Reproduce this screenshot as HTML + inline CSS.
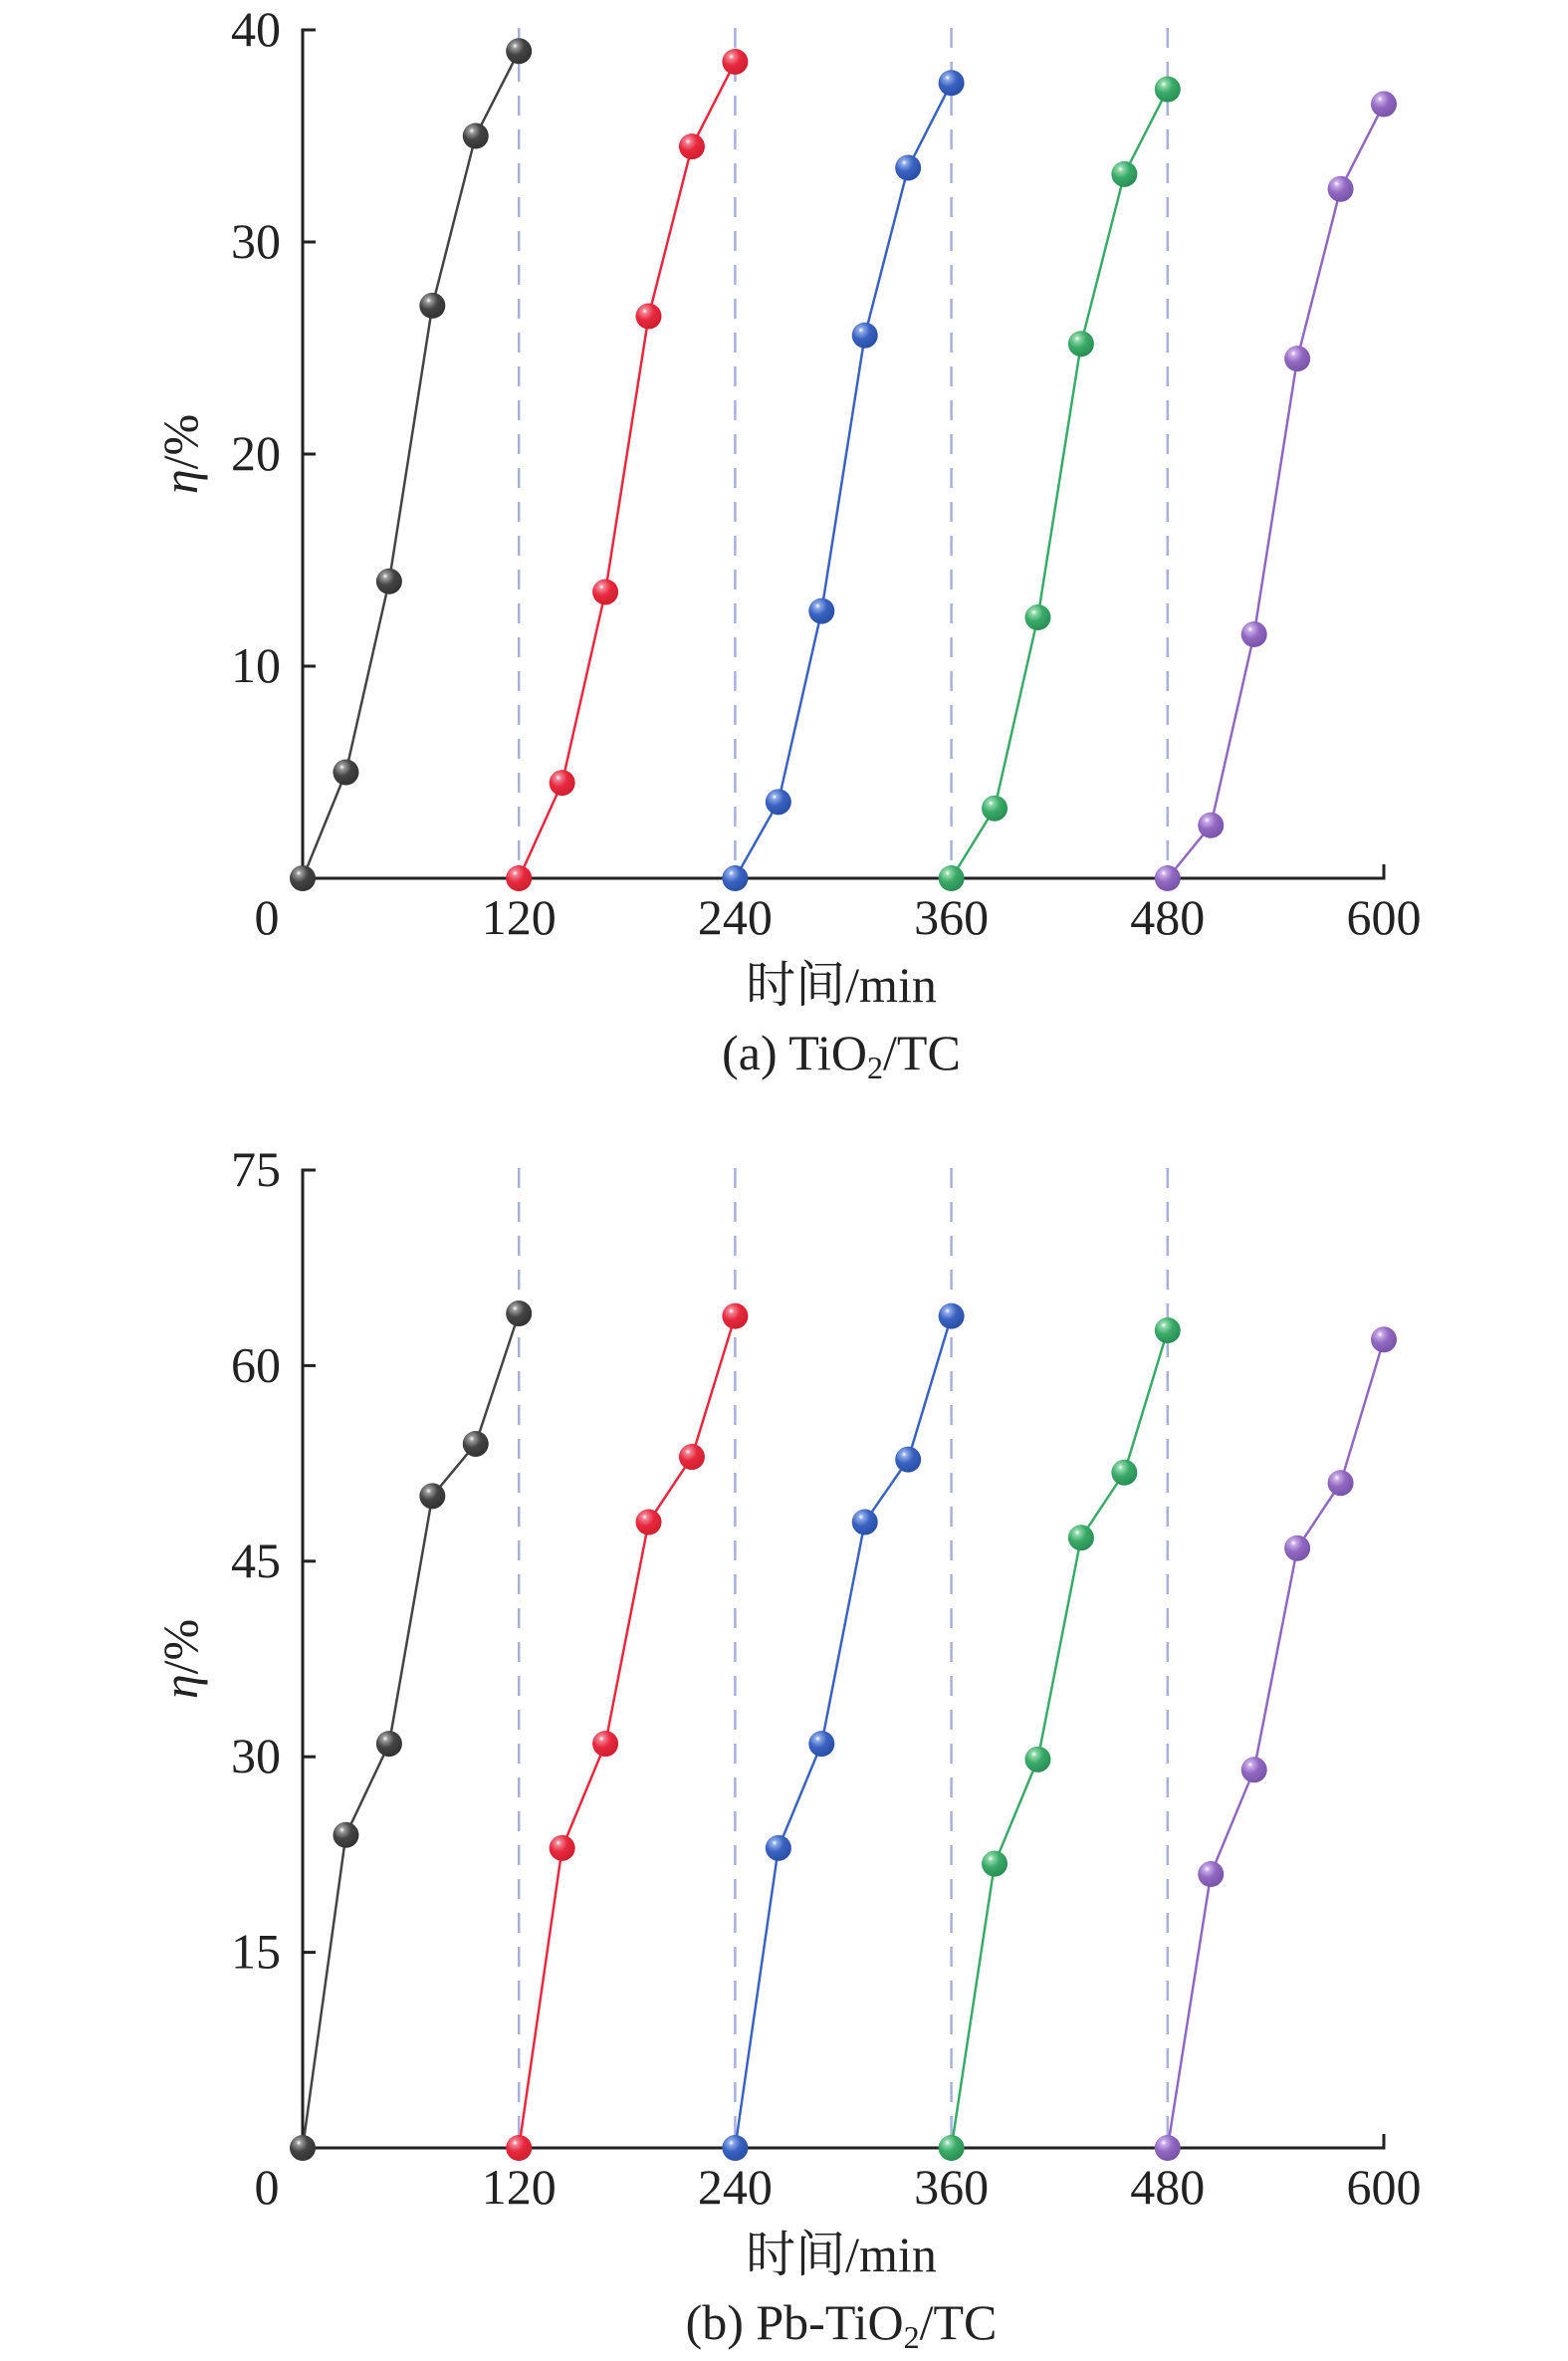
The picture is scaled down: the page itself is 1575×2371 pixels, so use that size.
<!DOCTYPE html>
<html><head><meta charset="utf-8"><style>
body{margin:0;background:#fff}
svg text{font-family:"Liberation Serif","Noto Serif CJK SC",serif;fill:#222}
</style></head><body>
<svg id="s" width="1575" height="2366" viewBox="0 0 1575 2366" xmlns="http://www.w3.org/2000/svg">
<defs>
<radialGradient id="g0" cx="0.35" cy="0.3" r="0.7"><stop offset="0" stop-color="#fff"/><stop offset="0.15" stop-color="#999"/><stop offset="0.5" stop-color="#444"/><stop offset="1" stop-color="#333"/></radialGradient>
<radialGradient id="g1" cx="0.35" cy="0.3" r="0.7"><stop offset="0" stop-color="#fff"/><stop offset="0.15" stop-color="#f08090"/><stop offset="0.5" stop-color="#e8283e"/><stop offset="1" stop-color="#d02030"/></radialGradient>
<radialGradient id="g2" cx="0.35" cy="0.3" r="0.7"><stop offset="0" stop-color="#fff"/><stop offset="0.15" stop-color="#8aa8e8"/><stop offset="0.5" stop-color="#3a62c0"/><stop offset="1" stop-color="#2a50a8"/></radialGradient>
<radialGradient id="g3" cx="0.35" cy="0.3" r="0.7"><stop offset="0" stop-color="#fff"/><stop offset="0.15" stop-color="#8ed8a8"/><stop offset="0.5" stop-color="#3aaa68"/><stop offset="1" stop-color="#2a9055"/></radialGradient>
<radialGradient id="g4" cx="0.35" cy="0.3" r="0.7"><stop offset="0" stop-color="#fff"/><stop offset="0.15" stop-color="#c8a8e8"/><stop offset="0.5" stop-color="#9068c0"/><stop offset="1" stop-color="#7a55aa"/></radialGradient>
</defs>
</svg>
<script>
const xTimes=[0,24,48,72,96,120];
const cycleStarts=[0,120,240,360,480];
const xTicks=[0,120,240,360,480,600];
const aTicks=[10,20,30,40];
const bTicks=[15,30,45,60,75];
const aBlack=[0,5,14,27,35,39];
const aRed=[0,4.5,13.5,26.5,34.5,38.5];
const aBlue=[0,3.6,12.6,25.6,33.5,37.5];
const aGreen=[0,3.3,12.3,25.2,33.2,37.2];
const aPurple=[0,2.5,11.5,24.5,32.5,36.5];
const bBlack=[0,24,31,50,54,64];
const bRed=[0,23,31,48,53,63.8];
const bBlue=[0,23,31,48,52.8,63.8];
const bGreen=[0,21.8,29.8,46.8,51.8,62.7];
const bPurple=[0,21,29,46,51,62];
const colors=['#444','#e8283e','#3a62c0','#3aaa68','#9068c0'];
const NS='http://www.w3.org/2000/svg';
const svg=document.getElementById('s');
function mk(t,a,p){const e=document.createElementNS(NS,t);for(const k in a)e.setAttribute(k,a[k]);(p||svg).appendChild(e);return e;}
function panel(id,top,y0,ymax,ticks,series,cap,capSub,capTail){
  const x0=304,x1=1390;
  const X=v=>x0+(v/600)*(x1-x0);
  const Y=v=>y0-(v/ymax)*(y0-top);
  const g=mk('g',{});
  
  
  cycleStarts.slice(1).forEach(c=>{const l=mk('line',{x1:X(c),x2:X(c),y1:top-2,y2:y0,stroke:'#a8b0dc','stroke-width':2.5,'stroke-dasharray':'20 14'},g);
    
    });
  const ax=mk('path',{d:`M${x0+13} ${top}H${x0}V${y0}H${x1}V${y0-14}`,fill:'none',stroke:'#222','stroke-width':3},g);
  
  
  ticks.forEach(t=>{mk('line',{x1:x0,x2:x0+13,y1:Y(t),y2:Y(t),stroke:'#222','stroke-width':3},g);
    const tx=mk('text',{x:x0-22,y:Y(t)+16,'font-size':50,'text-anchor':'end'},g);tx.textContent=t;
    
    });
  xTicks.forEach(t=>{if(t>0&&t<600)mk('line',{x1:X(t),x2:X(t),y1:y0,y2:y0-13,stroke:'#222','stroke-width':3},g);
    const tx=mk('text',{x:t==0?268:X(t),y:y0+56,'font-size':50,'text-anchor':'middle'},g);tx.textContent=t;
    
    });
  const yl=mk('text',{x:0,y:0,'font-size':50,'text-anchor':'middle',transform:`translate(198 ${(top+y0)/2}) rotate(-90)`},g);
  yl.innerHTML='<tspan font-style="italic">η</tspan>/%';
  
  
  const xl=mk('text',{x:(x0+x1)/2-2,y:y0+124,'font-size':50,'text-anchor':'middle'},g);xl.textContent='时间/min';
  
  
  const cp=mk('text',{x:(x0+x1)/2-2,y:y0+192,'font-size':50,'text-anchor':'middle'},g);
  cp.innerHTML=cap+'<tspan font-size="32" dy="9">'+capSub+'</tspan><tspan dy="-9">'+capTail+'</tspan>';
  
  
  series.forEach((s,i)=>{
    const pts=s.map((v,j)=>[X(cycleStarts[i]+xTimes[j]),Y(v)]);
    const pl=mk('polyline',{points:pts.map(p=>p.join(',')).join(' '),fill:'none',stroke:colors[i],'stroke-width':2.5},g);
    
    
    pts.forEach(p=>{const c=mk('circle',{cx:p[0],cy:p[1],r:13,fill:`url(#g${i})`},g);
      
      });
  });
}
panel('tio2',30,882,40,aTicks,[aBlack,aRed,aBlue,aGreen,aPurple],'(a) TiO','2','/TC');
panel('pb-tio2',1175,2157,75,bTicks,[bBlack,bRed,bBlue,bGreen,bPurple],'(b) Pb-TiO','2','/TC');
</script>
</body></html>
